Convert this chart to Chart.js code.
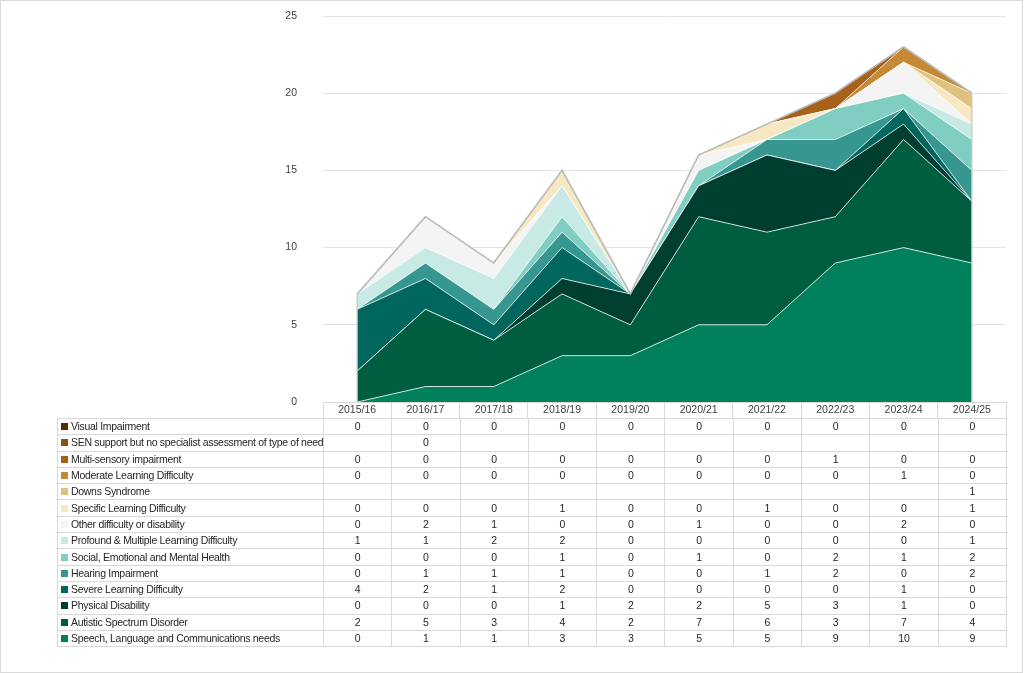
<!DOCTYPE html>
<html>
<head>
<meta charset="utf-8">
<script src="https://cdn.jsdelivr.net/npm/chart.js@4.4.1/dist/chart.umd.min.js"></script>
<style>
  body { margin: 0; background: #fff; font-family: "Liberation Sans", Arial, sans-serif; }
  #frame { position: absolute; left: 0; top: 0; width: 1021px; height: 671px; border: 1px solid #d9d9d9; }
  #myChart { position: absolute; left: 0; top: 0; }
  #tbl { position: absolute; left: 57px; top: 418px; width: 949px; border-collapse: collapse; table-layout: fixed; font-size: 10.5px; color: #262626; }
  #tbl td { border: 1px solid #d9d9d9; height: 15.3px; padding: 0; line-height: 15px; text-align: center; white-space: nowrap; overflow: hidden; }
  #tbl td.lab { text-align: left; padding-left: 3px; letter-spacing: -0.3px; }
  .sw { display: inline-block; width: 7px; height: 7px; margin-right: 3px; vertical-align: 0px; }
</style>
</head>
<body>
<div id="frame"></div>
<canvas id="myChart" width="1024" height="420"></canvas>
<table id="tbl"></table>
<script>
const years = ["2015/16", "2016/17", "2017/18", "2018/19", "2019/20", "2020/21", "2021/22", "2022/23", "2023/24", "2024/25"];

// series, bottom of the stack first; null = blank cell in the table
const speech    = [0, 1, 1, 3, 3, 5, 5, 9, 10, 9];
const autistic  = [2, 5, 3, 4, 2, 7, 6, 3, 7, 4];
const physical  = [0, 0, 0, 1, 2, 2, 5, 3, 1, 0];
const severe    = [4, 2, 1, 2, 0, 0, 0, 0, 1, 0];
const hearing   = [0, 1, 1, 1, 0, 0, 1, 2, 0, 2];
const semh      = [0, 0, 0, 1, 0, 1, 0, 2, 1, 2];
const pmld      = [1, 1, 2, 2, 0, 0, 0, 0, 0, 1];
const other     = [0, 2, 1, 0, 0, 1, 0, 0, 2, 0];
const specific  = [0, 0, 0, 1, 0, 0, 1, 0, 0, 1];
const downs     = [null, null, null, null, null, null, null, null, null, 1];
const moderate  = [0, 0, 0, 0, 0, 0, 0, 0, 1, 0];
const multi     = [0, 0, 0, 0, 0, 0, 0, 1, 0, 0];
const senNoAss  = [null, 0, null, null, null, null, null, null, null, null];
const visual    = [0, 0, 0, 0, 0, 0, 0, 0, 0, 0];

const series = [
    ["Speech, Language and Communications needs", speech, "#00805c"],
    ["Autistic Spectrum Disorder", autistic, "#005e40"],
    ["Physical Disability", physical, "#003e2f"],
    ["Severe Learning Difficulty", severe, "#01665e"],
    ["Hearing Impairment", hearing, "#35978f"],
    ["Social, Emotional and Mental Health", semh, "#80cdc1"],
    ["Profound & Multiple Learning Difficulty", pmld, "#c7eae5"],
    ["Other difficulty or disability", other, "#f4f4f4"],
    ["Specific Learning Difficulty", specific, "#f6e8c3"],
    ["Downs Syndrome", downs, "#dfc27d"],
    ["Moderate Learning Difficulty", moderate, "#c58a35"],
    ["Multi-sensory impairment", multi, "#a6611a"],
    ["SEN support but no specialist assessment of type of need", senNoAss, "#8c510a"],
    ["Visual Impairment", visual, "#543005"]
];

const datasets = series.map((s, i) => ({
    label: s[0],
    data: s[1].map(v => v === null ? 0 : v),
    backgroundColor: s[2],
    borderColor: i === series.length - 1 ? "#b8b8b8" : "rgba(255,255,255,0.75)",
    borderWidth: i === series.length - 1 ? 1.5 : 1,
    pointRadius: 0,
    tension: 0,
    fill: i === 0 ? "origin" : "-1"
}));

// redraw the outline of the top series so the lower white borders don't hide it
const topOutline = {
    id: "topOutline",
    afterDatasetsDraw(chart) {
        const meta = chart.getDatasetMeta(chart.data.datasets.length - 1);
        const c = chart.ctx;
        meta.dataset.draw(c, chart.chartArea);
        const pts = meta.data;
        const y0 = chart.scales.y.getPixelForValue(0);
        c.save();
        c.strokeStyle = "#c4c4c4";
        c.lineWidth = 1.2;
        [pts[0], pts[pts.length - 1]].forEach(p => {
            c.beginPath();
            c.moveTo(p.x, y0);
            c.lineTo(p.x, p.y);
            c.stroke();
        });
        c.restore();
    }
};

const ctx = document.getElementById("myChart");
const myChart = new Chart(ctx, {
    type: "line",
    data: { labels: years, datasets: datasets },
    plugins: [topOutline],
    options: {
        responsive: false,
        animation: false,
        layout: { padding: { left: 0, right: 18, top: 16, bottom: 0 } },
        plugins: { legend: { display: false }, tooltip: { enabled: false } },
        scales: {
            x: {
                offset: true,
                grid: { offset: true, drawOnChartArea: false, drawTicks: true, tickLength: 16, color: "#d9d9d9" },
                border: { display: true, color: "#d9d9d9" },
                ticks: { padding: -14, color: "#404040", font: { family: "Liberation Sans", size: 10.5 }, maxRotation: 0 },
                afterFit: s => { s.height = 18; }
            },
            y: {
                stacked: true,
                min: 0,
                max: 25,
                // the gap left of the plot comes from invisible tick marks, ticks.padding would also pad top/bottom
                ticks: { stepSize: 5, padding: 0, color: "#404040", font: { family: "Liberation Sans", size: 10.5 } },
                grid: { color: "#e3e3e3", drawTicks: true, tickLength: 26, tickColor: "rgba(0,0,0,0)" },
                border: { display: false },
                afterFit: s => { s.width = 323; }
            }
        }
    }
});

// data table under the axis, rows in reverse stack order like the legend
const tbl = document.getElementById("tbl");
const colW = (1006 - 323) / years.length;
let html = '<colgroup><col style="width:266px">';
years.forEach(() => { html += '<col style="width:' + colW + 'px">'; });
html += '</colgroup>';
series.slice().reverse().forEach(s => {
    html += '<tr><td class="lab"><span class="sw" style="background:' + s[2] + '"></span>' + s[0] + '</td>';
    s[1].forEach(v => { html += '<td>' + (v === null ? '' : v) + '</td>'; });
    html += '</tr>';
});
tbl.innerHTML = html;
</script>
</body>
</html>
